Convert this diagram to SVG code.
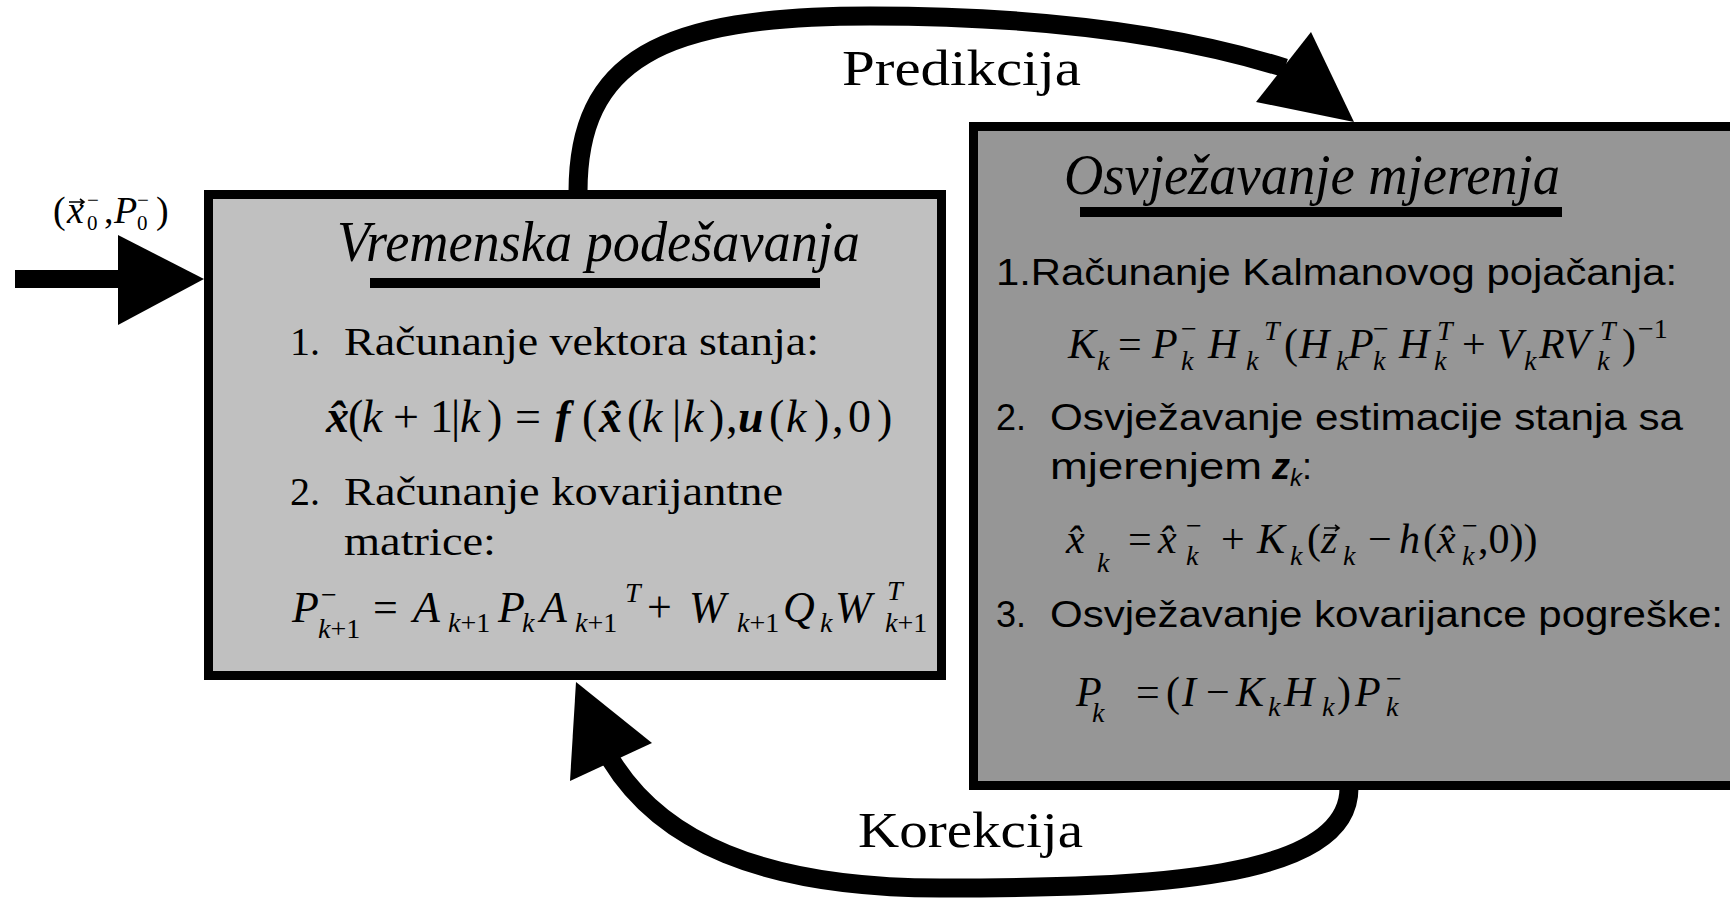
<svg xmlns="http://www.w3.org/2000/svg" width="1730" height="901" viewBox="0 0 1730 901">
<style>
.serif{font-family:"Liberation Serif","Times New Roman",serif;fill:#000}
.sans{font-family:"Liberation Sans",Arial,sans-serif;fill:#000}
.it{font-style:italic}
.bi{font-style:italic;font-weight:bold}
.up{font-style:normal;font-weight:normal}
.m{font-size:46px}
.m2{font-size:42px}
.s{font-size:28px}
.box{stroke:#000;stroke-width:9}
.arc{fill:none;stroke:#000;stroke-width:19}
.head{fill:#000}
.acc{fill:none;stroke:#000;stroke-width:1.6}
</style>
<defs>
  <path id="vec" class="acc" d="M0 0 H15 M11 -3 L15 0 L11 3"/>
</defs>
<rect width="1730" height="901" fill="#fff"/>

<g id="connectors">
  <rect class="head" x="15" y="270" width="105" height="18"/>
  <polygon class="head" points="118,235 204,279 118,325"/>
  <path class="arc" d="M578 192 C 578 60, 660 16, 870 16 C 1040 16, 1180 35, 1285 68"/>
  <polygon class="head" points="1311,32 1256,102 1354,122"/>
  <path class="arc" d="M1349 788 C 1349 880, 1150 888, 940 888 C 760 888, 660 840, 611 760"/>
  <polygon class="head" points="576,682 570,781 652,743"/>
  <text class="serif" x="842" y="85" font-size="50" textLength="239" lengthAdjust="spacingAndGlyphs">Predikcija</text>
  <text class="serif" x="858" y="847" font-size="50" textLength="225" lengthAdjust="spacingAndGlyphs">Korekcija</text>
</g>

<g id="initial-state-label" class="serif">
  <text y="223" font-size="38"><tspan x="53">(</tspan><tspan x="67" class="it">x</tspan><tspan x="104">,</tspan><tspan x="114" class="it">P</tspan><tspan x="156">)</tspan></text>
  <use href="#vec" x="69" y="202"/>
  <text font-size="21"><tspan x="87" y="207">−</tspan><tspan x="87" y="230">0</tspan><tspan x="137" y="207">−</tspan><tspan x="137" y="230">0</tspan></text>
</g>

<g id="node-time-update">
  <rect class="box" x="208.5" y="194.5" width="733" height="481" fill="#c0c0c0"/>
  <text class="serif it" x="337" y="261" font-size="57" textLength="523" lengthAdjust="spacingAndGlyphs">Vremenska podešavanja</text>
  <rect x="370" y="278" width="450" height="10" fill="#000"/>
  <text class="serif" y="355" font-size="40"><tspan x="290">1.</tspan></text>
  <text class="serif" x="344" y="355" font-size="40" textLength="475" lengthAdjust="spacingAndGlyphs">Računanje vektora stanja:</text>
  <text class="serif m" y="432"><tspan x="326" class="bi">x̂</tspan><tspan x="348">(</tspan><tspan x="362" class="it">k</tspan><tspan x="393">+</tspan><tspan x="430">1</tspan><tspan x="451">|</tspan><tspan x="460" class="it">k</tspan><tspan x="487">)</tspan><tspan x="515">=</tspan><tspan x="555" class="bi">f</tspan><tspan x="582">(</tspan><tspan x="599" class="bi">x̂</tspan><tspan x="627">(</tspan><tspan x="642" class="it">k</tspan><tspan x="672">|</tspan><tspan x="683" class="it">k</tspan><tspan x="709">)</tspan><tspan x="726">,</tspan><tspan x="738" class="bi">u</tspan><tspan x="769">(</tspan><tspan x="786" class="it">k</tspan><tspan x="814">)</tspan><tspan x="832">,</tspan><tspan x="848">0</tspan><tspan x="877">)</tspan></text>
  <text class="serif" y="505" font-size="40"><tspan x="290">2.</tspan></text>
  <text class="serif" x="344" y="505" font-size="40" textLength="439" lengthAdjust="spacingAndGlyphs">Računanje kovarijantne</text>
  <text class="serif" x="344" y="555" font-size="40" textLength="152" lengthAdjust="spacingAndGlyphs">matrice:</text>
  <text class="serif it" font-size="44" y="622"><tspan x="292">P</tspan><tspan x="373" class="up">=</tspan><tspan x="413">A</tspan><tspan x="498">P</tspan><tspan x="540">A</tspan><tspan x="647" class="up">+</tspan><tspan x="689">W</tspan><tspan x="783">Q</tspan><tspan x="835">W</tspan></text>
  <text class="serif s it"><tspan x="321" y="604" class="up">−</tspan><tspan x="318" y="638">k</tspan><tspan class="up">+1</tspan><tspan x="448" y="632">k</tspan><tspan class="up">+1</tspan><tspan x="522" y="632">k</tspan><tspan x="575" y="632">k</tspan><tspan class="up">+1</tspan><tspan x="625" y="602">T</tspan><tspan x="737" y="632">k</tspan><tspan class="up">+1</tspan><tspan x="820" y="632">k</tspan><tspan x="887" y="600">T</tspan><tspan x="885" y="632">k</tspan><tspan class="up">+1</tspan></text>
</g>

<g id="node-measurement-update">
  <rect class="box" x="973.5" y="126.5" width="800" height="659" fill="#969696"/>
  <text class="serif it" x="1064" y="194" font-size="57" textLength="496" lengthAdjust="spacingAndGlyphs">Osvježavanje mjerenja</text>
  <rect x="1080" y="207" width="482" height="10" fill="#000"/>
  <text class="sans" x="996" y="285" font-size="36" textLength="681" lengthAdjust="spacingAndGlyphs">1.Računanje Kalmanovog pojačanja:</text>
  <text class="serif m2 it" y="358"><tspan x="1068">K</tspan><tspan x="1118" class="up">=</tspan><tspan x="1152">P</tspan><tspan x="1208">H</tspan><tspan x="1284" class="up">(</tspan><tspan x="1299">H</tspan><tspan x="1348">P</tspan><tspan x="1399">H</tspan><tspan x="1462" class="up">+</tspan><tspan x="1497">V</tspan><tspan x="1539">R</tspan><tspan x="1564">V</tspan><tspan x="1622" class="up">)</tspan></text>
  <text class="serif s it"><tspan x="1097" y="370">k</tspan><tspan x="1181" y="338" class="up">−</tspan><tspan x="1181" y="370">k</tspan><tspan x="1246" y="370">k</tspan><tspan x="1264" y="340">T</tspan><tspan x="1336" y="370">k</tspan><tspan x="1373" y="338" class="up">−</tspan><tspan x="1373" y="370">k</tspan><tspan x="1437" y="340">T</tspan><tspan x="1434" y="370">k</tspan><tspan x="1524" y="370">k</tspan><tspan x="1600" y="340">T</tspan><tspan x="1597" y="370">k</tspan><tspan x="1638" y="338" class="up">−1</tspan></text>
  <text class="sans" y="430" font-size="36"><tspan x="996">2.</tspan></text>
  <text class="sans" x="1050" y="430" font-size="36" textLength="633" lengthAdjust="spacingAndGlyphs">Osvježavanje estimacije stanja sa</text>
  <text class="sans" x="1050" y="479" font-size="36" textLength="212" lengthAdjust="spacingAndGlyphs">mjerenjem</text>
  <text class="sans" y="479" font-size="36"><tspan x="1272" class="bi">z</tspan><tspan x="1290" y="486" font-size="24" class="it">k</tspan><tspan x="1302" y="479">:</tspan></text>
  <text class="serif m2 it" y="553"><tspan x="1066">x̂</tspan><tspan x="1128" class="up">=</tspan><tspan x="1158">x̂</tspan><tspan x="1221" class="up">+</tspan><tspan x="1257">K</tspan><tspan x="1307" class="up">(</tspan><tspan x="1321">z</tspan><tspan x="1368" class="up">−</tspan><tspan x="1399">h</tspan><tspan x="1423" class="up">(</tspan><tspan x="1437">x̂</tspan><tspan x="1478" class="up">,0))</tspan></text>
  <use href="#vec" x="1324" y="528"/>
  <text class="serif s it"><tspan x="1097" y="572">k</tspan><tspan x="1186" y="535" class="up">−</tspan><tspan x="1186" y="565">k</tspan><tspan x="1290" y="565">k</tspan><tspan x="1343" y="565">k</tspan><tspan x="1462" y="535" class="up">−</tspan><tspan x="1462" y="565">k</tspan></text>
  <text class="sans" y="627" font-size="36"><tspan x="996">3.</tspan></text>
  <text class="sans" x="1050" y="627" font-size="36" textLength="673" lengthAdjust="spacingAndGlyphs">Osvježavanje kovarijance pogreške:</text>
  <text class="serif m2 it" y="706"><tspan x="1076">P</tspan><tspan x="1136" class="up">=</tspan><tspan x="1166" class="up">(</tspan><tspan x="1182">I</tspan><tspan x="1206" class="up">−</tspan><tspan x="1236">K</tspan><tspan x="1284">H</tspan><tspan x="1337" class="up">)</tspan><tspan x="1355">P</tspan></text>
  <text class="serif s it"><tspan x="1092" y="722">k</tspan><tspan x="1268" y="716">k</tspan><tspan x="1322" y="716">k</tspan><tspan x="1386" y="688" class="up">−</tspan><tspan x="1386" y="716">k</tspan></text>
</g>
</svg>
